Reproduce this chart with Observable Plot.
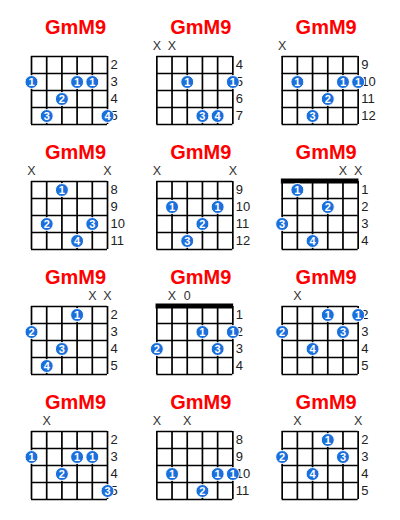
<!DOCTYPE html>
<html>
<head>
<meta charset="utf-8">
<script src="https://cdn.jsdelivr.net/npm/d3@7"></script>
<script src="https://cdn.jsdelivr.net/npm/@observablehq/plot@0.6"></script>
<style>
  html, body { margin: 0; padding: 0; background: #fff; }
</style>
</head>
<body>
<div id="chart"></div>
<script>
// ---- Data ----
const chordName = "GmM9";
// first fret shown in each of the 12 diagrams (1 = nut drawn)
const baseFrets = [2, 4, 9, 8, 9, 1, 2, 1, 2, 2, 8, 2];
// strings (1 = low E, left) marked X above the diagram
const mutedStrings = [[], [1, 2], [1], [1, 6], [1, 6], [5, 6], [5, 6], [2], [2], [2], [1, 3], [2, 6]];
// strings marked 0 above the diagram
const openStrings = [[], [], [], [], [], [], [], [3], [], [], [], []];
// finger dots per diagram: [string, fret row (1..4), finger number]
const fingerings = [
  [[1, 2, 1], [2, 4, 3], [3, 3, 2], [4, 2, 1], [5, 2, 1], [6, 4, 4]],
  [[3, 2, 1], [6, 2, 1], [4, 4, 3], [5, 4, 4]],
  [[2, 2, 1], [5, 2, 1], [6, 2, 1], [4, 3, 2], [3, 4, 3]],
  [[3, 1, 1], [2, 3, 2], [5, 3, 3], [4, 4, 4]],
  [[2, 2, 1], [5, 2, 1], [4, 3, 2], [3, 4, 3]],
  [[2, 1, 1], [4, 2, 2], [1, 3, 3], [3, 4, 4]],
  [[4, 1, 1], [1, 2, 2], [3, 3, 3], [2, 4, 4]],
  [[4, 2, 1], [6, 2, 1], [1, 3, 2], [5, 3, 3]],
  [[4, 1, 1], [6, 1, 1], [1, 2, 2], [5, 2, 3], [3, 3, 4]],
  [[1, 2, 1], [4, 2, 1], [5, 2, 1], [3, 3, 2], [6, 4, 3]],
  [[2, 3, 1], [5, 3, 1], [6, 3, 1], [4, 4, 2]],
  [[4, 1, 1], [1, 2, 2], [5, 2, 3], [3, 3, 4]]
];
const stringNumbers = [1, 2, 3, 4, 5, 6];
const fretLines = [0, 1, 2, 3, 4];
const fretRows = [1, 2, 3, 4];

// ---- Layout ----
const W = 400, H = 520, COLS = 3, ROWS = 4;
const mRight = 24, mBottom = 20;
const bandW = (W - mRight) / COLS, bandH = (H - mBottom) / ROWS;
const gridLeft = 31, stringGap = 15.2, gridTop = 56, fretGap = 17;
const px = (p) => p / stringGap; // pixel offset -> string units
const py = (p) => p / fretGap;   // pixel offset -> fret units

// ---- Tables ----
const diagrams = baseFrets.map((b, i) => ({i, col: i % COLS, row: Math.floor(i / COLS), base: b}));
const strings = diagrams.flatMap(d => stringNumbers.map(s => ({...d, s})));
const frets = diagrams.flatMap(d => fretLines.map(f => ({...d, f})));
const nuts = diagrams.filter(d => d.base === 1);
const fretLabels = diagrams.flatMap(d => fretRows.map(r => ({...d, r, label: String(d.base + r - 1)})));
const marks = diagrams.flatMap(d => [
  ...mutedStrings[d.i].map(s => ({...d, s, t: "X"})),
  ...openStrings[d.i].map(s => ({...d, s, t: "0"}))
]);
const dots = diagrams.flatMap(d => fingerings[d.i].map(([s, r, n]) => ({...d, s, r, n: String(n)})));

const F = {fx: "col", fy: "row"};
const blue = "#1a6fdc";

const chart = Plot.plot({
  width: W,
  height: H,
  marginTop: 0, marginLeft: 0, marginRight: mRight, marginBottom: mBottom,
  style: {background: "#fff", fontFamily: "'Liberation Sans', Arial, sans-serif"},
  fx: {domain: [0, 1, 2], padding: 0, round: false, axis: null},
  fy: {domain: [0, 1, 2, 3], padding: 0, round: false, axis: null},
  x: {domain: [1 - px(gridLeft), 1 + px(bandW - gridLeft)], axis: null},
  y: {domain: [-py(gridTop), py(bandH - gridTop)], reverse: true, axis: null},
  marks: [
    Plot.ruleX(strings, {...F, x: "s", y1: 0, y2: 4, stroke: "#000", strokeWidth: 1.7}),
    Plot.ruleY(frets, {...F, y: "f", x1: 1, x2: 6, stroke: "#000", strokeWidth: 1.7}),
    Plot.ruleY(nuts, {...F, y: -py(0.5), x1: 1 - px(0.8), x2: 6 + px(0.8), stroke: "#000", strokeWidth: 5}),
    Plot.text(diagrams, {...F, x: 1 + px(44), y: -py(29), text: () => chordName, fill: "#f00",
      fontSize: 20, fontWeight: "bold"}),
    Plot.text(marks, {...F, x: "s", y: -py(10.5), text: "t", fill: "#333", fontSize: 12.5}),
    Plot.text(fretLabels, {...F, x: 6 + px(3), y: d => d.r - 0.5, text: "label", textAnchor: "start",
      fill: "#222", fontSize: 13}),
    Plot.dot(dots, {...F, x: "s", y: d => d.r - 0.5, r: 6.5, fill: blue, stroke: "#fff", strokeWidth: 1}),
    Plot.text(dots, {...F, x: "s", y: d => d.r - 0.5, text: "n", fill: "#fff", fontSize: 11, fontWeight: "bold"})
  ]
});
document.getElementById("chart").appendChild(chart);
</script>
</body>
</html>
